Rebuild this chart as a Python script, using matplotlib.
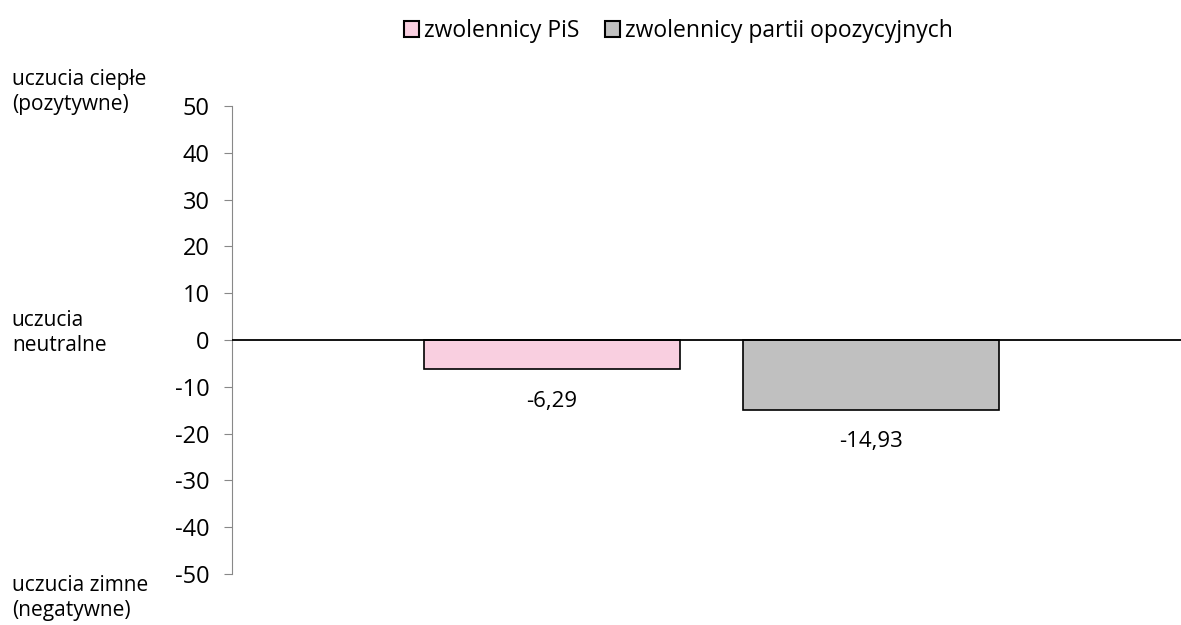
import matplotlib.pyplot as plt
from matplotlib.patches import Patch

plt.rcParams['font.family'] = ['Open Sans', 'DejaVu Sans']

series = ['zwolennicy PiS', 'zwolennicy partii opozycyjnych']
values = [-6.29, -14.93]
labels = ['-6,29', '-14,93']
colors = ['#f9cfe0', '#c0c0c0']
yticks = [50, 40, 30, 20, 10, 0, -10, -20, -30, -40, -50]

fig = plt.figure(figsize=(11.81, 6.25), dpi=100)
ax = fig.add_axes([0.1964, 0.0816, 0.8036, 0.7488])

xpos = [0.337, 0.673]
ax.bar(xpos, values, width=0.27, color=colors, edgecolor='black', linewidth=1.2, zorder=2)
ax.axhline(0, color='black', lw=1.3, zorder=3)

for x, v, t in zip(xpos, values, labels):
    ax.text(x, v - 6.8, t, ha='center', va='center', fontsize=16)

ax.set_xlim(0, 1)
ax.set_ylim(-50, 50)
ax.set_yticks(yticks)
ax.set_yticklabels([str(t) for t in yticks], fontsize=17)
ax.tick_params(axis='y', direction='out', length=6, color='#888888', pad=10)
ax.set_xticks([])
for s in ['top', 'right', 'bottom']:
    ax.spines[s].set_visible(False)
ax.spines['left'].set_color('#888888')

side = dict(fontsize=15, va='center', ha='left', linespacing=1.25)
fig.text(0.01, 1 - 92 / 625, 'uczucia ciepłe\n(pozytywne)', **side)
fig.text(0.01, 1 - 333 / 625, 'uczucia\nneutralne', **side)
fig.text(0.01, 1 - 598 / 625, 'uczucia zimne\n(negatywne)', **side)

handles = [Patch(facecolor=c, edgecolor='black', linewidth=1.5) for c in colors]
fig.legend(handles, series, loc='center', bbox_to_anchor=(0.5745, 1 - 31 / 625), ncol=2,
           frameon=False, fontsize=16.5, handlelength=0.65, handleheight=0.65,
           handletextpad=0.25, columnspacing=1.1)

fig.savefig('out.png', dpi=100)
